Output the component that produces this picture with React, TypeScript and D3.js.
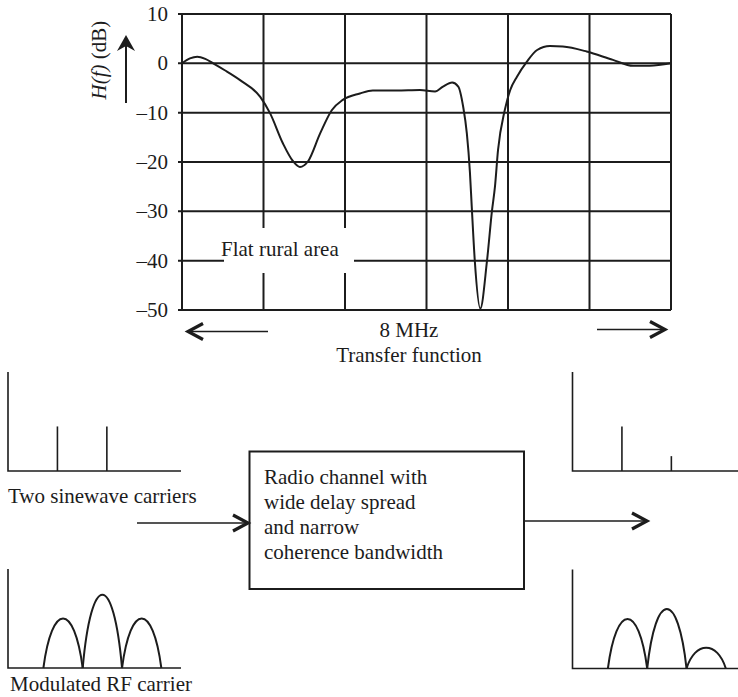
import React from "react";
import * as d3 from "d3";

// transfer function of the channel
const freqMHz = [0, 0.13, 0.25, 0.38, 0.51, 0.7, 0.95, 1.28, 1.44, 1.65, 1.82, 1.93, 2.06, 2.26, 2.45, 2.63, 2.91, 3.12, 3.51, 3.89, 4.14, 4.27, 4.42, 4.52, 4.6, 4.66, 4.71, 4.74, 4.79, 4.88, 4.99, 5.07, 5.12, 5.17, 5.28, 5.37, 5.48, 5.64, 5.81, 6.02, 6.23, 6.62, 7.05, 7.38, 7.65, 8.0];
const gainDb = [0, 1.0, 1.35, 0.9, 0, -1.4, -3.4, -6.8, -10.1, -16.2, -19.9, -21.0, -19.9, -14.2, -9.5, -7.4, -6.1, -5.5, -5.5, -5.4, -5.7, -4.7, -3.9, -4.7, -8.8, -14.2, -22, -29, -40, -49.7, -40, -30, -25, -17.6, -9.5, -5.4, -2.7, 0.3, 2.7, 3.5, 3.4, 2.4, 0.7, -0.5, -0.5, 0];
const yTicks = [10, 0, -10, -20, -30, -40, -50];
const yTickLabels = ["10", "0", "–10", "–20", "–30", "–40", "–50"];

// little spectra of the block diagram
const carrierPos = [2, 4];
const carriersIn = [0.45, 0.45];
const carriersOut = [0.45, 0.15];
const lobeEdges = [0.9, 1.9, 2.9, 3.9];
const lobesIn = [0.5, 0.74, 0.5];
const lobesOut = [0.5, 0.6, 0.21];
const boxLines = ["Radio channel with", "wide delay spread", "and narrow", "coherence bandwidth"];

const ink = "#1c1c1c";
const font = "'Liberation Serif', 'Times New Roman', serif";

const W = 738;
const H = 697;

const x = d3.scaleLinear().domain([0, 8]).range([182, 671]);
const y = d3.scaleLinear().domain([10, -50]).range([14, 310]);
const xGrid = d3.range(7).map((i) => (i * 8) / 6);

// open chevron arrow (tip at x2)
function Arrow({ x1, x2, yy }: { x1: number; x2: number; yy: number }) {
	const dir = x2 > x1 ? 1 : -1;
	const head = d3.line()([
		[x2 - dir * 15, yy - 8],
		[x2, yy],
		[x2 - dir * 15, yy + 8],
	]);
	return (
		<g>
			<path d={d3.line()([[x1, yy], [x2 - dir * 2, yy]])!} stroke={ink} strokeWidth={1.6} />
			<path d={head!} fill="none" stroke={ink} strokeWidth={3.2} strokeLinejoin="miter" />
		</g>
	);
}

function Spectrum({ x0, y0, carriers, lobes }: { x0: number; y0: number; carriers?: number[]; lobes?: number[] }) {
	const sx = d3.scaleLinear().domain([0, 7]).range([x0, x0 + 173]);
	const lx = d3.scaleLinear().domain([0, 4.4]).range([x0, x0 + 173]);
	const sy = d3.scaleLinear().domain([0, 1]).range([y0, y0 - 99]);
	return (
		<g stroke={ink} fill="none" strokeWidth={1.6}>
			<path d={d3.line()([[x0, sy(1)], [x0, y0], [x0 + 173, y0]])!} />
			{carriers &&
				carriers.map((h, i) => (
					<path key={i} d={d3.line()([[sx(carrierPos[i]), y0], [sx(carrierPos[i]), sy(h)]])!} />
				))}
			{lobes &&
				lobes.map((h, i) => {
					const a = lx(lobeEdges[i]);
					const b = lx(lobeEdges[i + 1]);
					const w = b - a;
					const top = y0 - (y0 - sy(h)) * (4 / 3);
					const p = d3.path();
					p.moveTo(a, y0);
					p.bezierCurveTo(a + 0.22 * w, top, b - 0.22 * w, top, b, y0);
					return <path key={i} d={p.toString()} strokeWidth={2} />;
				})}
		</g>
	);
}

export default function App() {
	const curve = d3
		.line<number>()
		.x((_, i) => x(freqMHz[i]))
		.y((d) => y(d))
		.curve(d3.curveMonotoneX);

	return (
		<svg width={W} height={H} style={{ position: "absolute", left: 0, top: 0, background: "#fff" }} fontFamily={font}>
			{/* grid */}
			<g stroke={ink} strokeWidth={2}>
				{yTicks.map((t) => (
					<line key={t} x1={x(0) - 4} x2={x(8)} y1={y(t)} y2={y(t)} />
				))}
				{xGrid.map((f, i) => (
					<line key={i} x1={x(f)} x2={x(f)} y1={y(10)} y2={y(-50)} />
				))}
			</g>
			{yTicks.map((t, i) => (
				<text key={t} x={168} y={y(t) + 7} textAnchor="end" fontSize={21} fill={ink}>
					{yTickLabels[i]}
				</text>
			))}
			<rect x={224} y={228} width={130} height={45} fill="#fff" />
			<text x={221} y={256} fontSize={21} fill={ink}>
				Flat rural area
			</text>
			<path d={curve(gainDb)!} fill="none" stroke={ink} strokeWidth={2} />

			{/* y label with arrow */}
			<text transform="translate(106,60) rotate(-90)" textAnchor="middle" fontSize={21} fill={ink}>
				<tspan fontStyle="italic">H(f)</tspan> (dB)
			</text>
			<path d={d3.line()([[126, 103], [126, 44]])!} stroke={ink} strokeWidth={2} />
			<path d="M126,35 L135,51 L126,46 L117,51 Z" fill={ink} />

			{/* frequency span */}
			<Arrow x1={268} x2={188} yy={331.5} />
			<Arrow x1={597} x2={665} yy={329.5} />
			<text x={409} y={336.5} textAnchor="middle" fontSize={21} fill={ink}>
				8 MHz
			</text>
			<text x={409} y={362} textAnchor="middle" fontSize={21} fill={ink}>
				Transfer function
			</text>

			{/* block diagram */}
			<Spectrum x0={8} y0={471} carriers={carriersIn} />
			<text x={8} y={503} fontSize={21} fill={ink}>
				Two sinewave carriers
			</text>
			<Spectrum x0={8} y0={668} lobes={lobesIn} />
			<text x={10} y={691} fontSize={21} fill={ink}>
				Modulated RF carrier
			</text>

			<Arrow x1={137} x2={248} yy={523} />
			<rect x={249.5} y={451.5} width={274.5} height={137.5} fill="none" stroke={ink} strokeWidth={2} />
			{boxLines.map((s, i) => (
				<text key={i} x={264} y={483.5 + i * 25.3} fontSize={21} fill={ink}>
					{s}
				</text>
			))}
			<Arrow x1={524} x2={647} yy={521} />

			<Spectrum x0={572.5} y0={471} carriers={carriersOut} />
			<Spectrum x0={572.5} y0={668.5} lobes={lobesOut} />
		</svg>
	);
}
